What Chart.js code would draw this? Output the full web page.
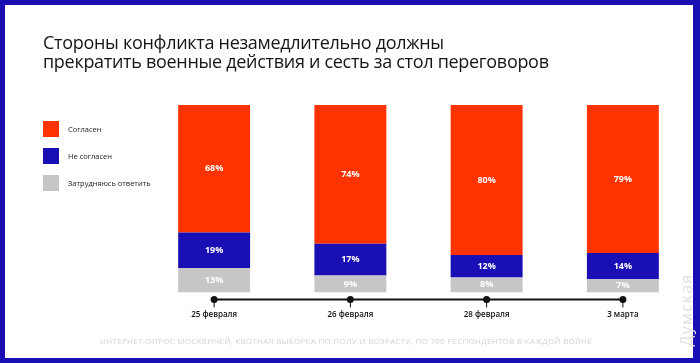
<!DOCTYPE html>
<html>
<head>
<meta charset="utf-8">
<script src="https://cdn.jsdelivr.net/npm/chart.js@4"></script>
<style>
  html, body { margin: 0; padding: 0; }
  body { width: 700px; height: 363px; background: #1a0fb4; position: relative; overflow: hidden; font-family: "Open Sans", sans-serif; }
  .sheet { position: absolute; left: 5px; top: 5px; width: 688px; height: 353px; background: #fff; }
  canvas { position: absolute; left: 0; top: 0; }
  .title { position: absolute; left: 43px; top: 33px; font-size: 18px; line-height: 19px; color: #151515; letter-spacing: -0.3px; }
  .legend { position: absolute; left: 43px; top: 121px; font-size: 7.5px; color: #222; }
  .legend div { height: 16px; margin-bottom: 11px; display: flex; align-items: center; }
  .legend span { display: inline-block; width: 16px; height: 16px; margin-right: 9px; }
  .note { position: absolute; left: 100px; top: 335px; font-size: 8px; letter-spacing: 0.28px; color: #d2d2d2; }
  .mark { position: absolute; left: 634px; top: 300px; width: 104px; height: 20px; line-height: 20px; text-align: center; transform: rotate(-90deg); font-size: 16px; color: #e0e0e0; letter-spacing: 1.2px; }
</style>
</head>
<body>
<div class="sheet"></div>
<canvas id="chart" width="700" height="363"></canvas>
<div class="title">Стороны конфликта незамедлительно должны<br>прекратить военные действия и сесть за стол переговоров</div>
<div class="legend">
  <div><span style="background:#ff3300"></span>Согласен</div>
  <div><span style="background:#1a0fb4"></span>Не согласен</div>
  <div><span style="background:#c6c6c6"></span>Затрудняюсь ответить</div>
</div>
<div class="note">ИНТЕРНЕТ-ОПРОС МОСКВИЧЕЙ, КВОТНАЯ ВЫБОРКА ПО ПОЛУ И ВОЗРАСТУ, ПО 700 РЕСПОНДЕНТОВ В КАЖДОЙ ВОЛНЕ</div>
<div class="mark">Думская</div>
<script>
const dates = ['25 февраля', '26 февраля', '28 февраля', '3 марта'];
const agree = [68, 74, 80, 79];
const disagree = [19, 17, 12, 14];
const unsure = [13, 9, 8, 7];

// white percentage labels in the middle of each segment
const segmentLabels = {
    id: 'segmentLabels',
    afterDatasetsDraw(chart) {
        const ctx = chart.ctx;
        ctx.save();
        ctx.fillStyle = '#fff';
        ctx.font = 'bold 9px "Open Sans"';
        ctx.textAlign = 'center';
        ctx.textBaseline = 'middle';
        chart.data.datasets.forEach((ds, i) => {
            chart.getDatasetMeta(i).data.forEach((bar, j) => {
                ctx.fillText(ds.data[j] + '%', bar.x, (bar.y + bar.base) / 2);
            });
        });
        ctx.restore();
    },
};

// timeline under the bars
const timeline = {
    id: 'timeline',
    afterDraw(chart) {
        const ctx = chart.ctx;
        const x = chart.scales.x;
        const y = chart.chartArea.bottom + 7;
        const xs = dates.map((d, i) => x.getPixelForValue(i));
        ctx.save();
        ctx.strokeStyle = '#111';
        ctx.lineWidth = 2;
        ctx.beginPath();
        ctx.moveTo(xs[0], y);
        ctx.lineTo(xs[xs.length - 1], y);
        ctx.stroke();
        ctx.lineWidth = 1;
        ctx.fillStyle = '#111';
        xs.forEach((px) => {
            ctx.beginPath();
            ctx.moveTo(px, y);
            ctx.lineTo(px, y + 8);
            ctx.stroke();
            ctx.beginPath();
            ctx.arc(px, y, 3.5, 0, Math.PI * 2);
            ctx.fill();
        });
        ctx.restore();
    },
};

new Chart(document.getElementById('chart'), {
    type: 'bar',
    data: {
        labels: dates,
        datasets: [
            { label: 'Согласен', data: agree, backgroundColor: '#ff3300' },
            { label: 'Не согласен', data: disagree, backgroundColor: '#1a0fb4' },
            { label: 'Затрудняюсь ответить', data: unsure, backgroundColor: '#c6c6c6' },
        ].reverse(),
    },
    options: {
        responsive: false,
        animation: false,
        layout: { padding: { left: 146, right: 9, top: 105, bottom: 25 } },
        datasets: { bar: { barPercentage: 1, categoryPercentage: 0.528 } },
        plugins: { legend: { display: false }, tooltip: { enabled: false } },
        scales: {
            x: {
                stacked: true,
                grid: { display: false, drawTicks: false },
                border: { display: false },
                ticks: { color: '#111', padding: 18, font: { family: '"Open Sans"', size: 8, weight: '600' } },
            },
            y: { stacked: true, display: false, min: 0, max: 100 },
        },
    },
    plugins: [segmentLabels, timeline],
});
</script>
</body>
</html>
